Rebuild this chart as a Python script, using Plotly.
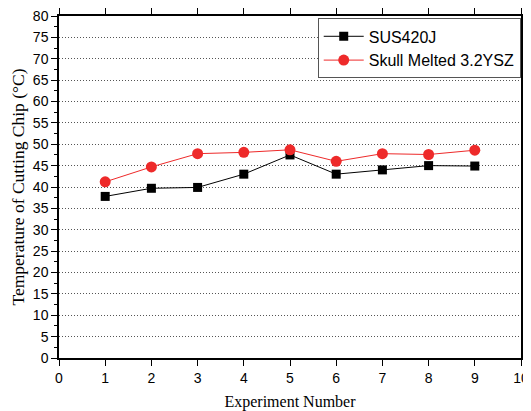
import plotly.graph_objects as go

experiments = [1, 2, 3, 4, 5, 6, 7, 8, 9]
sus420j = [37.8, 39.7, 39.9, 43.0, 47.5, 43.0, 44.0, 45.0, 44.9]
skull_ysz = [41.2, 44.7, 47.8, 48.1, 48.7, 46.0, 47.8, 47.6, 48.6]
series_names = ["SUS420J", "Skull Melted 3.2YSZ"]

fig = go.Figure()
fig.add_trace(go.Scatter(
    x=experiments, y=sus420j, name=series_names[0], mode="lines+markers",
    line=dict(color="black", width=1),
    marker=dict(symbol="square", size=9, color="black"),
))
fig.add_trace(go.Scatter(
    x=experiments, y=skull_ysz, name=series_names[1], mode="lines+markers",
    line=dict(color="#ee2a2a", width=1),
    marker=dict(symbol="circle", size=11, color="#ee2a2a"),
))

tickfont = dict(family="Liberation Sans, Arial", size=14, color="black")
titlefont = dict(family="Liberation Serif, Times New Roman", size=16, color="black")
ytitlefont = dict(family="Liberation Serif, Times New Roman", size=17.5, color="black")

# page body has an 8px default margin, so the figure is sized to fit inside the window
fig.update_layout(
    width=523, height=403,
    margin=dict(l=51, r=10, t=8, b=53),
    paper_bgcolor="white", plot_bgcolor="white",
    showlegend=True,
    legend=dict(
        x=0.56, y=0.993, xanchor="left", yanchor="top",
        bgcolor="white", bordercolor="#555555", borderwidth=1,
        font=dict(family="Liberation Sans, Arial", size=16, color="black"),
        tracegroupgap=0, itemwidth=40,
    ),
    xaxis=dict(
        range=[0, 10], dtick=1, tick0=0, automargin=False,
        showline=True, linecolor="black", linewidth=1.5, mirror="allticks",
        ticks="outside", ticklen=6, tickwidth=1, tickcolor="black",
        showgrid=False, zeroline=False, ticklabeloverflow="allow",
        tickfont=tickfont,
        title=dict(text="Experiment Number", font=titlefont, standoff=14),
    ),
    yaxis=dict(
        range=[0, 80], dtick=5, tick0=0, automargin=False,
        showline=True, linecolor="black", linewidth=1.5, mirror="allticks",
        ticks="outside", ticklen=6, tickwidth=1, tickcolor="black",
        showgrid=True, gridcolor="#555555", griddash="1px,2px", gridwidth=1,
        zeroline=False, ticklabeloverflow="allow",
        minor=dict(dtick=2.5, ticks="outside", ticklen=3, tickcolor="black", showgrid=False),
        tickfont=tickfont,
        title=dict(text="Temperature of Cutting Chip (°C)", font=ytitlefont, standoff=8),
    ),
)

fig.write_html("out.html")
